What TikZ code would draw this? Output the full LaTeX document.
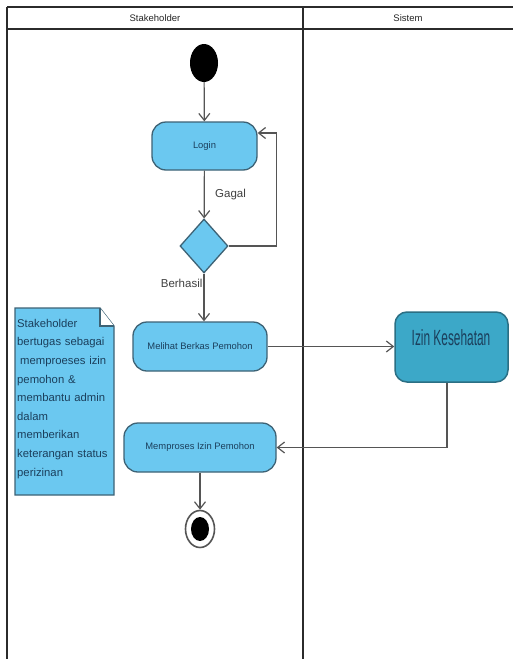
\documentclass[tikz,border=0pt]{standalone}
\usepackage{fontspec}
\setmainfont{Liberation Sans}
\usepackage{graphicx}
\usetikzlibrary{shapes.geometric,arrows.meta}

\definecolor{actfill}{HTML}{6BC8F0}
\definecolor{actline}{HTML}{3D6275}
\definecolor{sysfill}{HTML}{3CA8C8}
\definecolor{sysline}{HTML}{2B6F84}
\definecolor{acttext}{HTML}{1B3F5C}
\definecolor{flowline}{HTML}{555555}
\definecolor{laneline}{HTML}{2B2B2B}

\tikzset{
  lane/.style={draw=laneline, line width=2pt},
  lanetitle/.style={font=\fontsize{9.5}{11}\selectfont, text=black!85},
  activity/.style={rectangle, rounded corners=14pt, draw=actline, line width=1.3pt,
    fill=actfill, text=acttext, font=\fontsize{9.4}{11}\selectfont, inner sep=0pt},
  sysactivity/.style={rectangle, rounded corners=12pt, draw=sysline, line width=1.5pt,
    fill=sysfill, inner sep=0pt},
  decision/.style={diamond, draw=actline, line width=1.3pt, fill=actfill, inner sep=0pt},
  flow/.style={draw=flowline, line width=1.2pt, -{Straight Barb[length=7pt,width=11pt]}},
  guard/.style={font=\fontsize{11.5}{13}\selectfont, text=black!75},
  notebox/.style={draw=actline, line width=1.2pt, fill=actfill},
}

\begin{document}
\begin{tikzpicture}[x=1pt,y=-1pt]
\useasboundingbox (0,0) rectangle (513,659);
\fill[white] (0,0) rectangle (513,659);

% swimlanes
\draw[lane] (7,7) -- (513,7);
\draw[lane] (7,29) -- (513,29);
\draw[lane] (7,7) -- (7,659);
\draw[lane] (303,7) -- (303,659);
\node[lanetitle] (laneA) at (155,18) {Stakeholder};
\node[lanetitle] (laneB) at (408,18) {Sistem};

% initial node
\node[ellipse, fill=black, minimum width=28pt, minimum height=38pt, inner sep=0pt] (start) at (204,63) {};

% activities
\node[activity, minimum width=105pt, minimum height=48pt] (login) at (204.5,146) {Login};
\node[decision, minimum width=48pt, minimum height=54pt] (dec) at (204,246) {};
\node[activity, minimum width=134pt, minimum height=49pt] (lihat) at (200,346.5) {Melihat Berkas Pemohon};
\node[activity, minimum width=152pt, minimum height=49pt] (proses) at (200,447.5) {Memproses Izin Pemohon};
\node[sysactivity, minimum width=113pt, minimum height=70pt] (izin) at (451.5,347) {};
\node[text=acttext, font=\fontsize{22}{24}\selectfont, inner sep=0pt] (izintext) at (451,338)
  {\scalebox{0.54}[1]{Izin Kesehatan}};

% final node
\node[ellipse, draw=flowline, line width=1.6pt, fill=white, minimum width=29pt, minimum height=37pt, inner sep=0pt] (final) at (200,529) {};
\node[ellipse, fill=black, minimum width=18pt, minimum height=24pt, inner sep=0pt] (finalcore) at (final.center) {};

% note with folded corner
\coordinate (nA) at (15,308);
\coordinate (nB) at (100,308);
\coordinate (nC) at (114,326);
\coordinate (nD) at (114,495);
\coordinate (nE) at (15,495);
\draw[notebox] (nA) -- (nB) -- (nC) -- (nD) -- (nE) -- cycle;
\fill[white] (nB) -- (nC) -- (100,326) -- cycle;
\draw[draw=actline, line width=1.2pt] (nB) -- (100,326) -- (nC);
\node[anchor=north west, inner sep=0pt, text width=98pt, align=left, text=acttext,
      font=\fontsize{11.3}{18.6}\selectfont] (notetext) at (17,319)
  {Stakeholder\\bertugas sebagai\\\hspace*{3pt}memproeses izin\\pemohon \&\\membantu admin\\dalam\\memberikan\\keterangan status\\perizinan};

% control flows
\draw[flow] (start) -- (login);
\draw[flow] (login) -- node[guard, right, xshift=7pt] (gagal) {Gagal} (dec);
\draw[flow] (dec.east) -- ++(48,0) |- ([yshift=13pt]login.east);
\draw[flow] (dec.south) -- node[guard, pos=0.2, left, inner sep=1pt] (berhasil) {Berhasil} (dec.south |- lihat.north);
\draw[flow] (lihat.east) -- (lihat.east -| izin.west);
\draw[flow] ([xshift=-4.5pt]izin.south) |- (proses.east);
\draw[flow] (proses.south) -- (final.north);
\end{tikzpicture}
\end{document}
